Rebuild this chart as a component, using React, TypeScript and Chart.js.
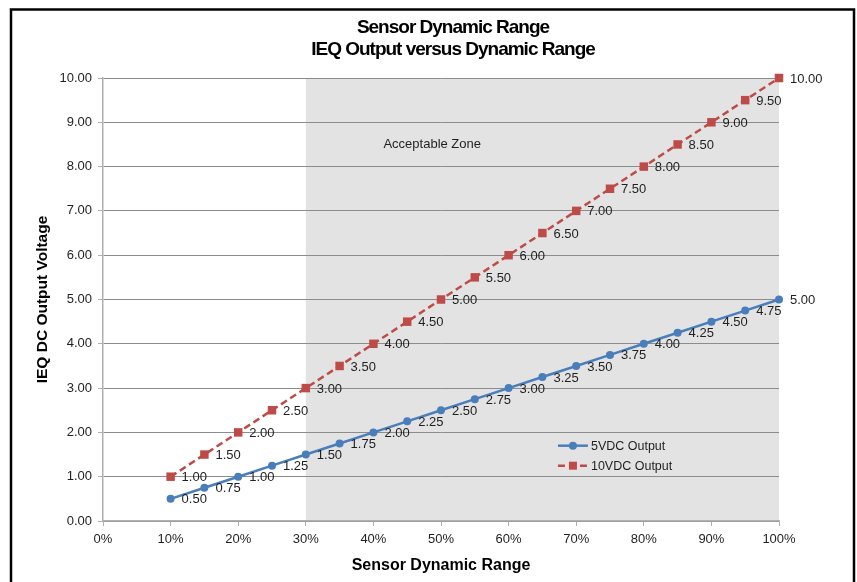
import React, { useEffect, useRef } from "react";
import { Chart, registerables } from "chart.js";

Chart.register(...registerables);

const titleLines = ["Sensor Dynamic Range", "IEQ Output versus Dynamic Range"];
const xTitle = "Sensor Dynamic Range";
const yTitle = "IEQ DC Output Voltage";
const seriesNames = ["5VDC Output", "10VDC Output"];
const rangePercent = [10, 15, 20, 25, 30, 35, 40, 45, 50, 55, 60, 65, 70, 75, 80, 85, 90, 95, 100];
const output5V = [0.5, 0.75, 1.0, 1.25, 1.5, 1.75, 2.0, 2.25, 2.5, 2.75, 3.0, 3.25, 3.5, 3.75, 4.0, 4.25, 4.5, 4.75, 5.0];
const output10V = [1.0, 1.5, 2.0, 2.5, 3.0, 3.5, 4.0, 4.5, 5.0, 5.5, 6.0, 6.5, 7.0, 7.5, 8.0, 8.5, 9.0, 9.5, 10.0];
const zoneStart = 30;
const zoneEnd = 100;
const zoneLabel = "Acceptable Zone";
const zoneLabelAt = { x: 48.7, y: 8.5 };
const legendAt = { x: 67.3, y: 1.7 };

const BLUE = "#4A7EBB";
const RED = "#BE4B48";
const FONT = "'Liberation Sans', Arial, sans-serif";

export default function App() {
  const ref = useRef<HTMLCanvasElement | null>(null);

  useEffect(() => {
    const canvas = ref.current;
    if (!canvas) return;

    const framePlugin = {
      id: "frameAndZone",
      beforeDraw(chart: any) {
        const { ctx, chartArea, scales } = chart;
        ctx.save();
        ctx.fillStyle = "#ffffff";
        ctx.fillRect(0, 0, chart.width, chart.height);
        // shaded acceptable zone
        const x0 = scales.x.getPixelForValue(zoneStart);
        const x1 = scales.x.getPixelForValue(zoneEnd);
        ctx.fillStyle = "#e3e3e3";
        ctx.fillRect(x0, chartArea.top, x1 - x0, chartArea.bottom - chartArea.top);
        // frame
        ctx.strokeStyle = "#000000";
        ctx.lineWidth = 2.5;
        ctx.strokeRect(11, 9.5, 843, 620);
        // title
        ctx.fillStyle = "#000000";
        ctx.font = `bold 19px ${FONT}`;
        (ctx as any).letterSpacing = "-1px";
        ctx.textAlign = "center";
        ctx.textBaseline = "middle";
        titleLines.forEach((t, i) => ctx.fillText(t, 453, 28 + i * 22));
        (ctx as any).letterSpacing = "0px";
        ctx.restore();
      },
    };

    const labelsPlugin = {
      id: "pointLabels",
      afterDatasetsDraw(chart: any) {
        const { ctx, scales } = chart;
        ctx.save();
        ctx.font = `13px ${FONT}`;
        ctx.fillStyle = "#1f1f1f";
        ctx.textAlign = "left";
        ctx.textBaseline = "middle";
        chart.data.datasets.forEach((ds: any, i: number) => {
          const meta = chart.getDatasetMeta(i);
          meta.data.forEach((pt: any, j: number) => {
            const v = ds.data[j].y;
            ctx.fillText(Number(v).toFixed(2), pt.x + 11, pt.y + 1);
          });
        });
        // zone label
        ctx.textAlign = "center";
        ctx.fillText(zoneLabel, scales.x.getPixelForValue(zoneLabelAt.x), scales.y.getPixelForValue(zoneLabelAt.y));
        // legend
        const lx = scales.x.getPixelForValue(legendAt.x);
        const ly = scales.y.getPixelForValue(legendAt.y);
        ctx.font = `12.5px ${FONT}`;
        ctx.textAlign = "left";
        chart.data.datasets.forEach((ds: any, i: number) => {
          const y = ly + i * 20;
          ctx.strokeStyle = ds.borderColor;
          ctx.lineWidth = 2.5;
          ctx.setLineDash(ds.borderDash || []);
          ctx.beginPath();
          ctx.moveTo(lx, y);
          ctx.lineTo(lx + 30, y);
          ctx.stroke();
          ctx.setLineDash([]);
          ctx.fillStyle = ds.backgroundColor;
          if (ds.pointStyle === "rect") {
            ctx.fillRect(lx + 15 - 4, y - 4, 8, 8);
          } else {
            ctx.beginPath();
            ctx.arc(lx + 15, y, 4, 0, Math.PI * 2);
            ctx.fill();
          }
          ctx.fillStyle = "#1f1f1f";
          ctx.fillText(ds.label, lx + 33, y + 1);
        });
        ctx.restore();
      },
    };

    const chart = new Chart(canvas, {
      type: "line",
      data: {
        datasets: [
          {
            label: seriesNames[0],
            data: rangePercent.map((x, i) => ({ x, y: output5V[i] })),
            borderColor: BLUE,
            backgroundColor: BLUE,
            borderWidth: 2.5,
            pointStyle: "circle",
            pointRadius: 4,
            pointBorderWidth: 0,
            tension: 0,
            clip: false,
          },
          {
            label: seriesNames[1],
            data: rangePercent.map((x, i) => ({ x, y: output10V[i] })),
            borderColor: RED,
            backgroundColor: RED,
            borderWidth: 2.5,
            borderDash: [7, 4],
            pointStyle: "rect",
            pointRadius: 6,
            pointBorderWidth: 0,
            tension: 0,
            clip: false,
          },
        ],
      },
      options: {
        animation: false,
        responsive: false,
        maintainAspectRatio: false,
        layout: { padding: { left: 0, right: 78, top: 78, bottom: 0 } },
        plugins: {
          legend: { display: false },
          tooltip: { enabled: false },
          title: { display: false },
        },
        scales: {
          x: {
            type: "linear",
            min: 0,
            max: 100,
            afterFit(scale: any) {
              scale.height = 61;
            },
            ticks: {
              stepSize: 10,
              color: "#1f1f1f",
              font: { family: FONT, size: 13 },
              padding: 6,
              maxRotation: 0,
              callback: (v: any) => `${v}%`,
            },
            grid: {
              drawOnChartArea: false,
              drawTicks: true,
              tickLength: 5,
              tickColor: "#b0b0b0",
              color: "#b0b0b0",
            },
            border: { color: "#b0b0b0", width: 1.5 },
            title: {
              display: true,
              text: xTitle,
              color: "#000000",
              font: { family: FONT, size: 16, weight: "bold", lineHeight: 1.2 },
              padding: { top: 0, bottom: 6.5 },
            },
          },
          y: {
            type: "linear",
            min: 0,
            max: 10,
            afterFit(scale: any) {
              scale.width = 103;
            },
            ticks: {
              stepSize: 1,
              color: "#1f1f1f",
              font: { family: FONT, size: 13 },
              padding: 6,
              callback: (v: any) => Number(v).toFixed(2),
            },
            grid: {
              drawOnChartArea: true,
              drawTicks: true,
              tickLength: 5,
              color: "#8c8c8c",
              tickColor: "#b0b0b0",
              lineWidth: 1,
            },
            border: { color: "#b0b0b0", width: 1.5 },
            title: {
              display: true,
              text: yTitle,
              color: "#000000",
              font: { family: FONT, size: 15.5, weight: "bold", lineHeight: 1.2 },
              padding: { top: 33.7, bottom: 0 },
            },
          },
        },
      },
      plugins: [framePlugin, labelsPlugin],
    } as any);

    return () => chart.destroy();
  }, []);

  return (
    <div style={{ position: "absolute", left: 0, top: 0, width: 857, height: 582 }}>
      <canvas ref={ref} width={857} height={582} style={{ width: 857, height: 582, display: "block" }} />
    </div>
  );
}
